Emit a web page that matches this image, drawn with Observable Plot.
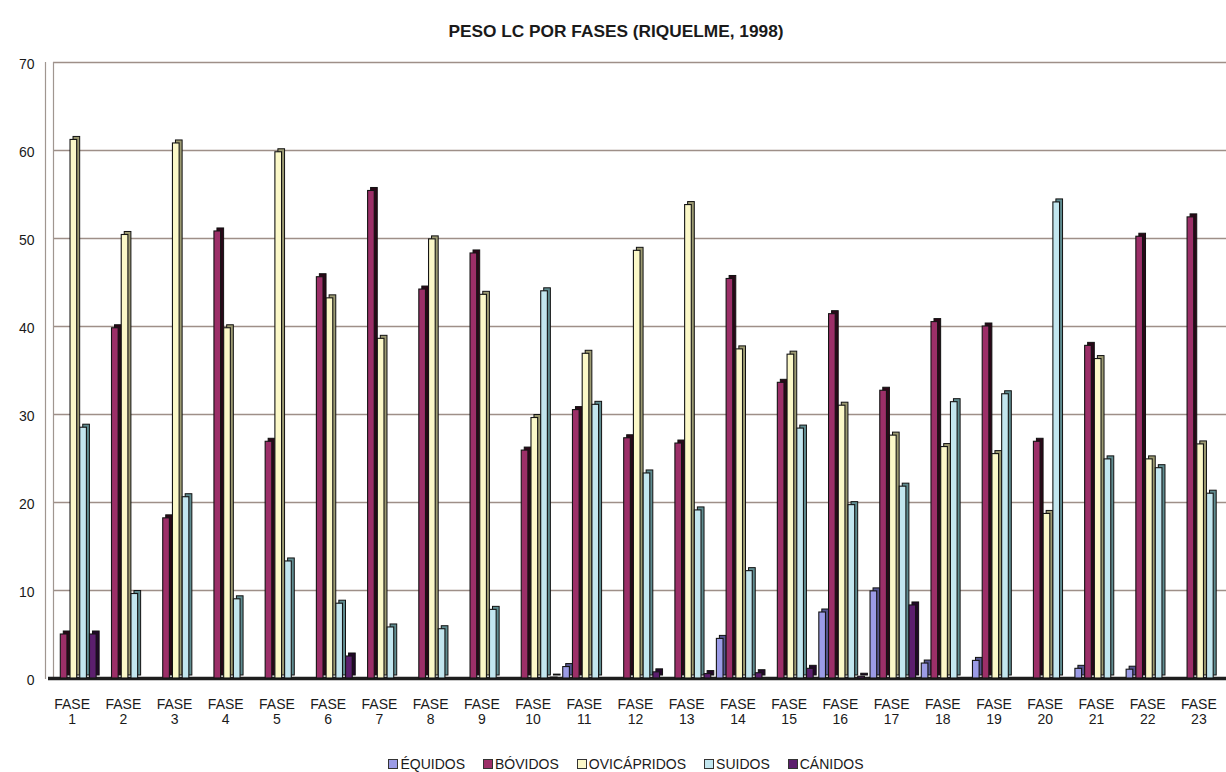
<!DOCTYPE html>
<html>
<head>
<meta charset="utf-8">
<script src="https://cdn.jsdelivr.net/npm/d3@7"></script>
<script src="https://cdn.jsdelivr.net/npm/@observablehq/plot@0.6"></script>
<style>
  html, body { margin: 0; padding: 0; background: #fff; width: 1226px; height: 772px; overflow: hidden; }
  body { font-family: "Liberation Sans", Arial, sans-serif; color: #1a1a1a; }
  #title { height: 50px; box-sizing: border-box; padding-top: 21px; text-align: center; font-weight: bold; font-size: 17.3px; padding-left: 6px; }
  #legend { display: flex; justify-content: center; align-items: center; gap: 18px; font-size: 14px; margin-top: 8px; padding-left: 26px; }
  #legend .sw { display: inline-block; width: 8px; height: 8px; border: 1px solid #333; margin-right: 2px; vertical-align: middle; position: relative; top: -1px; }
</style>
</head>
<body>
<div id="title">PESO LC POR FASES (RIQUELME, 1998)</div>
<div id="chart"></div>
<div id="legend"></div>
<script>
// ---- data ----
const fases = ["FASE 1","FASE 2","FASE 3","FASE 4","FASE 5","FASE 6","FASE 7","FASE 8","FASE 9","FASE 10","FASE 11","FASE 12","FASE 13","FASE 14","FASE 15","FASE 16","FASE 17","FASE 18","FASE 19","FASE 20","FASE 21","FASE 22","FASE 23"];
const species = ["ÉQUIDOS","BÓVIDOS","OVICÁPRIDOS","SUIDOS","CÁNIDOS"];
const equidos     = [0, 0, 0, 0, 0, 0, 0, 0, 0, 0, 1.3, 0, 0, 4.5, 0, 7.5, 9.9, 1.7, 2.0, 0, 1.1, 1.0, 0];
const bovidos     = [5.0, 39.8, 18.2, 50.8, 26.9, 45.6, 55.4, 44.2, 48.3, 25.9, 30.5, 27.3, 26.7, 45.4, 33.6, 41.4, 32.7, 40.5, 40.0, 26.9, 37.8, 50.2, 52.4];
const ovicapridos = [61.2, 50.4, 60.8, 39.8, 59.8, 43.2, 38.6, 49.9, 43.6, 29.6, 36.9, 48.6, 53.8, 37.4, 36.8, 31.0, 27.6, 26.3, 25.5, 18.7, 36.3, 24.9, 26.6];
const suidos      = [28.5, 9.6, 20.6, 9.0, 13.3, 8.5, 5.8, 5.6, 7.8, 44.0, 31.1, 23.3, 19.1, 12.2, 28.4, 19.7, 21.8, 31.4, 32.3, 54.1, 24.9, 23.9, 21.0];
const canidos     = [5.0, 0, 0, 0, 0, 2.5, 0, 0, 0, 0.1, 0, 0.7, 0.5, 0.6, 1.1, 0.2, 8.3, 0, 0, 0, 0, 0, 0];
const yTicks = [0, 10, 20, 30, 40, 50, 60, 70];

const series = [equidos, bovidos, ovicapridos, suidos, canidos];
const frontColors = ["#9b9be6", "#9c2f68", "#fbf8c8", "#c2e6ef", "#5c1f6e"];
const sideColors  = ["#55558f", "#2a0818", "#9c9a72", "#5f8c90", "#22082a"];

const rows = fases.flatMap((f, i) => species.map((s, j) => ({fase: f, species: s, value: series[j][i]})));

// ---- layout ----
const W = 1226, ML = 48, MR = 0;
const step = (W - ML - MR) / fases.length;
const pitch = step * 0.19;
const barW = step * 0.13;
const off0 = step * 0.05;
const depth = 3;

const barMarks = species.flatMap((s, j) => {
  const insetLeft = off0 + j * pitch;
  const insetRight = step - insetLeft - barW;
  const data = rows.filter(d => d.species === s);
  return [
    Plot.barY(data, {x: "fase", y: "value", insetLeft, insetRight, dx: depth, dy: -depth,
      fill: sideColors[j], stroke: "#111", strokeWidth: 1}),
    Plot.barY(data, {x: "fase", y: "value", insetLeft, insetRight,
      fill: frontColors[j], stroke: "#141414", strokeWidth: 1.1})
  ];
});

const chart = Plot.plot({
  width: W,
  height: 698,
  marginLeft: ML,
  marginRight: MR,
  marginTop: 12,
  marginBottom: 70,
  style: {fontFamily: "'Liberation Sans', Arial, sans-serif", fontSize: "13px", color: "#1a1a1a", background: "#fff"},
  x: {domain: fases, padding: 0, round: false, label: null},
  y: {domain: [0, 70], ticks: yTicks, label: null},
  marks: [
    Plot.gridY(yTicks, {stroke: "#9e8f88", strokeOpacity: 1, strokeWidth: 1.4, insetLeft: 5}),
    Plot.frame({anchor: "left", stroke: "#a09690", strokeWidth: 1.2, dx: -3}),
    Plot.frame({anchor: "left", stroke: "#a09690", strokeWidth: 1.2, dx: 5}),
    Plot.ruleY([0], {stroke: "#1e1e1e", strokeWidth: 3.5}),
    ...barMarks,
    Plot.axisY(yTicks, {tickSize: 0, tickPadding: 14, fontSize: 14, fill: "#1a1a1a", dy: 2}),
    Plot.axisX({tickSize: 0, tickPadding: 20, fontSize: 14, fill: "#1a1a1a", lineHeight: 1.08, dx: -2,
      tickFormat: d => d.replace(" ", "\n")})
  ]
});
document.getElementById("chart").appendChild(chart);

// ---- legend ----
const legend = document.getElementById("legend");
species.forEach((s, j) => {
  const item = document.createElement("span");
  const sw = document.createElement("span");
  sw.className = "sw";
  sw.style.background = frontColors[j];
  item.appendChild(sw);
  item.appendChild(document.createTextNode(s));
  legend.appendChild(item);
});
</script>
</body>
</html>
